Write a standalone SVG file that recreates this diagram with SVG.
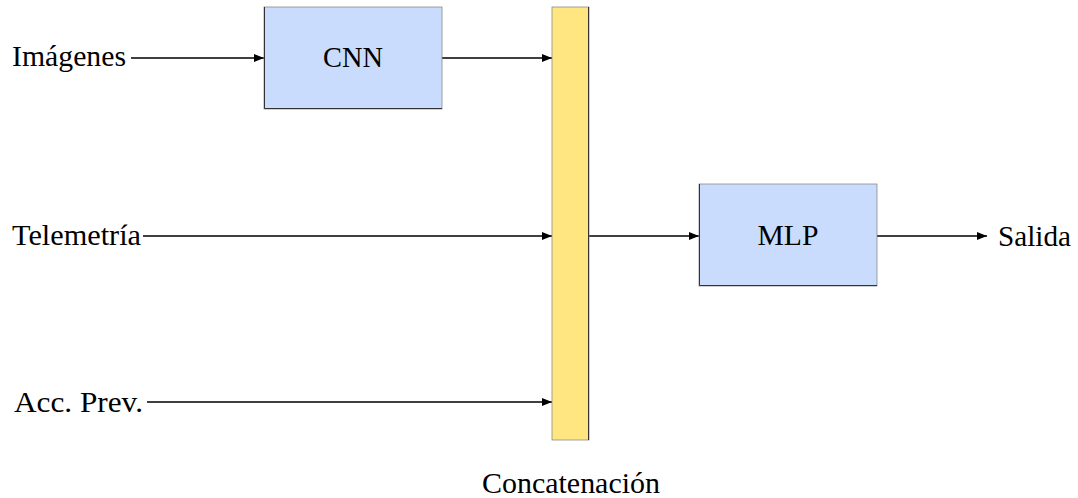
<svg xmlns="http://www.w3.org/2000/svg" width="1078" height="498" viewBox="0 0 1078 498">
  <style>
    .lbl { font-family: "Liberation Serif", "DejaVu Serif", serif; font-size: 29px; fill: #000; }
    .box { fill: #cadcfe; stroke: #8a8a8a; stroke-width: 0.8; }
    .bar { fill: #ffe680; stroke: #8a8a8a; stroke-width: 0.8; }
    .rim { stroke: #333; stroke-width: 1; fill: none; }
    .edge { stroke: #000; stroke-width: 1.6; fill: none; marker-end: url(#arrow); }
  </style>
  <defs>
    <marker id="arrow" viewBox="0 0 10 8" refX="10" refY="4" markerWidth="10" markerHeight="8" markerUnits="userSpaceOnUse" orient="auto">
      <path d="M0,0 L10,4 L0,8 Z" fill="#000"/>
    </marker>
  </defs>
  <rect width="1078" height="498" fill="#fff"/>

  <g id="connectors">
    <line class="edge" x1="131" y1="58" x2="264" y2="58"/>
    <line class="edge" x1="442" y1="58" x2="552" y2="58"/>
    <line class="edge" x1="143" y1="236" x2="552" y2="236"/>
    <line class="edge" x1="147" y1="402" x2="552" y2="402"/>
    <line class="edge" x1="589" y1="236" x2="699" y2="236"/>
    <line class="edge" x1="877" y1="236" x2="987" y2="236"/>
  </g>

  <g id="input-images">
    <text class="lbl" x="12" y="66" textLength="114" lengthAdjust="spacingAndGlyphs">Imágenes</text>
  </g>
  <g id="input-telemetry">
    <text class="lbl" x="12" y="245" textLength="129" lengthAdjust="spacingAndGlyphs">Telemetría</text>
  </g>
  <g id="input-prev-actions">
    <text class="lbl" x="14" y="412" textLength="129" lengthAdjust="spacingAndGlyphs">Acc. Prev.</text>
  </g>

  <g id="cnn">
    <rect class="box" x="264" y="7" width="178" height="102"/>
    <path class="rim" d="M264.5,7 V108.5 H442"/>
    <text class="lbl" x="353" y="67" text-anchor="middle" textLength="60" lengthAdjust="spacingAndGlyphs">CNN</text>
  </g>

  <g id="concat">
    <rect class="bar" x="552" y="7" width="37" height="433"/>
    <path class="rim" d="M588.5,7 V440"/>
    <text class="lbl" x="571" y="493" text-anchor="middle" textLength="178" lengthAdjust="spacingAndGlyphs">Concatenación</text>
  </g>

  <g id="mlp">
    <rect class="box" x="699" y="184" width="178" height="102"/>
    <path class="rim" d="M699.5,184 V285.5 H877"/>
    <text class="lbl" x="788" y="245" text-anchor="middle" textLength="61" lengthAdjust="spacingAndGlyphs">MLP</text>
  </g>

  <g id="output">
    <text class="lbl" x="998" y="246" textLength="73" lengthAdjust="spacingAndGlyphs">Salida</text>
  </g>
</svg>
